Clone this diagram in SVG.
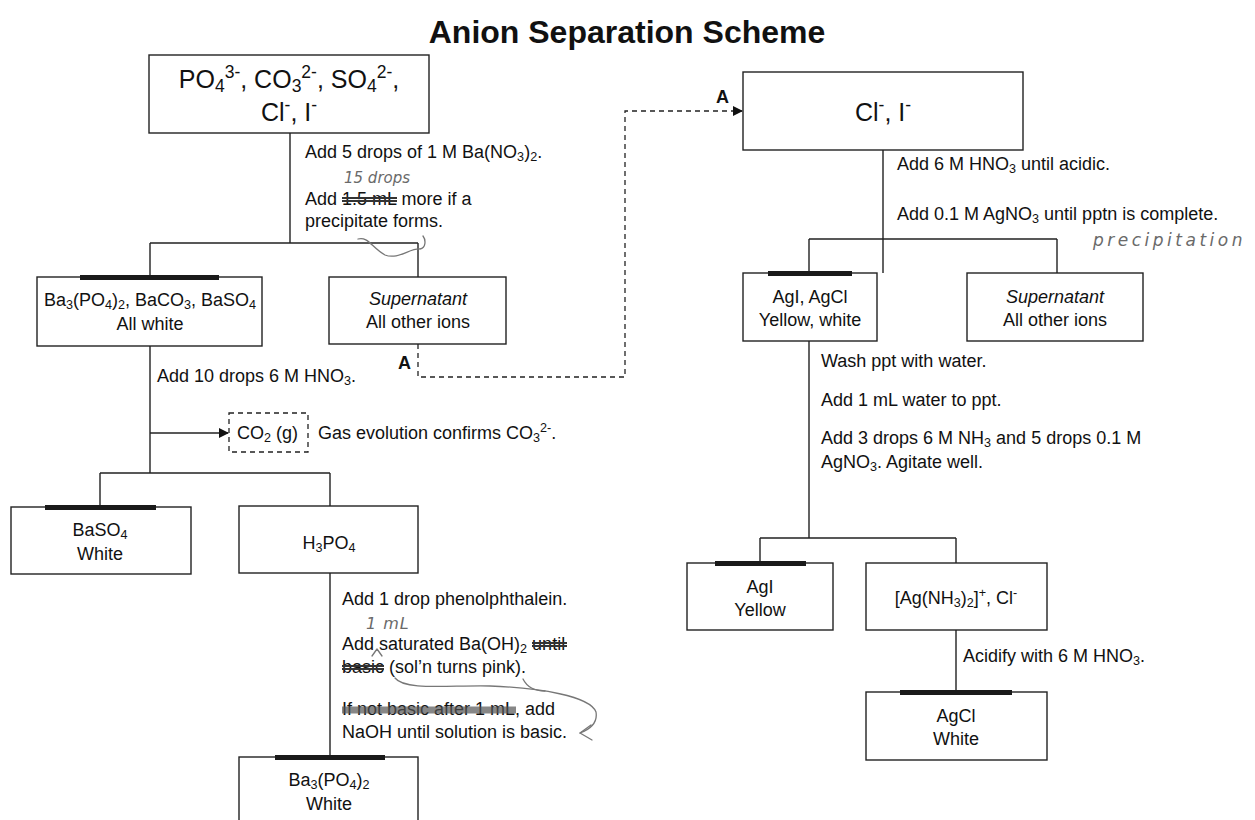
<svg xmlns="http://www.w3.org/2000/svg" width="1255" height="820" viewBox="0 0 1255 820">
<defs>
<style>
text{font-family:"Liberation Sans",Arial,sans-serif;fill:#111;}
.t{font-size:18px;}
.big{font-size:25px;}
.title{font-size:32px;font-weight:bold;}
.lbl{font-size:18px;font-weight:bold;}
.c{text-anchor:middle;}
.i{font-style:italic;}
.hw{font-family:"DejaVu Sans",sans-serif;font-style:italic;font-weight:200;font-size:16px;fill:#6a6a6a;}
.sub{baseline-shift:-3px;font-size:70%;}
.sup{baseline-shift:super;font-size:70%;}
.big .sub{baseline-shift:-4px;}
.box{fill:none;stroke:#222;stroke-width:1.4;}
.bar{fill:#1a1a1a;}
.ln{fill:none;stroke:#222;stroke-width:1.4;}
.dash{fill:none;stroke:#222;stroke-width:1.3;stroke-dasharray:5,4;}
.hand{fill:none;stroke:#777;stroke-width:1.3;stroke-linecap:round;stroke-linejoin:round;}
.strike{stroke:#333;stroke-width:2;}
.hl{stroke:#555;stroke-width:7;opacity:0.7;}
</style>
<marker id="arr" viewBox="0 0 10 10" refX="9" refY="5" markerWidth="10" markerHeight="10" markerUnits="userSpaceOnUse" orient="auto">
<path d="M0,0 L10,5 L0,10 z" fill="#111"/>
</marker>
</defs>
<rect width="1255" height="820" fill="#fff"/>

<text class="title c" x="627" y="43">Anion Separation Scheme</text>

<g id="connectors">
<path class="ln" d="M290,133 V243 M150,243 H418 M150,243 V277 M418,243 V277"/>
<path class="ln" d="M150,346 V473 M100,473 H330 M100,473 V507 M330,473 V506 M330,573 V757"/>
<path class="ln" d="M150,433 H228" marker-end="url(#arr)"/>
<path class="dash" d="M418,344 V377 H625 V111 H742" marker-end="url(#arr)"/>
<path class="ln" d="M883,150 V273 M809,239 H1057 M809,239 V273 M1057,239 V273"/>
<path class="ln" d="M809,341 V538 M760,538 H956 M760,538 V563 M956,538 V563 M956,630 V692"/>
</g>

<g id="n_start">
<rect class="box" x="149" y="55" width="280" height="78"/>
<text class="big c" x="289" y="88">PO<tspan class="sub">4</tspan><tspan class="sup">3-</tspan>, CO<tspan class="sub">3</tspan><tspan class="sup">2-</tspan>, SO<tspan class="sub">4</tspan><tspan class="sup">2-</tspan>,</text>
<text class="big c" x="289" y="121">Cl<tspan class="sup">-</tspan>, I<tspan class="sup">-</tspan></text>
</g>

<g id="step1">
<text class="t" x="305" y="158">Add 5 drops of 1 M Ba(NO<tspan class="sub">3</tspan>)<tspan class="sub">2</tspan>.</text>
<text class="hw" x="344" y="183" style="font-size:15px">15 drops</text>
<text class="t" x="305" y="205">Add 1.5 mL more if a</text>
<line class="strike" x1="342" y1="198" x2="397" y2="198"/>
<line class="strike" x1="342" y1="201" x2="397" y2="201"/>
<text class="t" x="305" y="227">precipitate forms.</text>
<path class="hand" d="M358,239 C368,236 372,248 385,255 C398,260 410,248 420,249 C426,248 426,240 423,236"/>
</g>

<g id="n_ppt1">
<rect class="box" x="37" y="277" width="225" height="69"/>
<rect class="bar" x="80" y="275" width="139" height="5"/>
<text class="t c" x="150" y="306">Ba<tspan class="sub">3</tspan>(PO<tspan class="sub">4</tspan>)<tspan class="sub">2</tspan>, BaCO<tspan class="sub">3</tspan>, BaSO<tspan class="sub">4</tspan></text>
<text class="t c" x="150" y="330">All white</text>
</g>

<g id="n_super1">
<rect class="box" x="329" y="277" width="177" height="67"/>
<text class="t c i" x="418" y="305">Supernatant</text>
<text class="t c" x="418" y="328">All other ions</text>
<text class="lbl" x="398" y="369">A</text>
</g>

<g id="step2">
<text class="t" x="157" y="382">Add 10 drops 6 M HNO<tspan class="sub">3</tspan>.</text>
</g>

<g id="n_co2">
<rect class="dash" x="229" y="413" width="79" height="39"/>
<text class="t" x="237" y="439">CO<tspan class="sub">2</tspan> (g)</text>
<text class="t" x="318" y="439">Gas evolution confirms CO<tspan class="sub">3</tspan><tspan class="sup">2-</tspan>.</text>
</g>

<g id="n_baso4">
<rect class="box" x="11" y="507" width="180" height="67"/>
<rect class="bar" x="45" y="505" width="111" height="5"/>
<text class="t c" x="100" y="536">BaSO<tspan class="sub">4</tspan></text>
<text class="t c" x="100" y="560">White</text>
</g>

<g id="n_h3po4">
<rect class="box" x="239" y="506" width="179" height="67"/>
<text class="t c" x="329" y="549">H<tspan class="sub">3</tspan>PO<tspan class="sub">4</tspan></text>
</g>

<g id="step3">
<text class="t" x="342" y="605">Add 1 drop phenolphthalein.</text>
<text class="hw" x="366" y="629" style="letter-spacing:1px">1 mL</text>
<text class="t" x="342" y="650">Add saturated Ba(OH)<tspan class="sub">2</tspan> until</text>
<line class="strike" x1="532" y1="643" x2="567" y2="643"/>
<line class="strike" x1="532" y1="646" x2="567" y2="646"/>
<path class="hand" d="M372,656 L377,649 L382,656"/>
<text class="t" x="342" y="673">basic (sol’n turns pink).</text>
<line class="strike" x1="342" y1="666" x2="384" y2="666"/>
<line class="strike" x1="342" y1="669" x2="384" y2="669"/>
<text class="t" x="342" y="715">If not basic after 1 mL, add</text>
<line class="hl" x1="342" y1="710" x2="516" y2="710"/>
<text class="t" x="342" y="738">NaOH until solution is basic.</text>
<path class="hand" d="M395,678 C405,691 450,685 490,686 C540,688 590,696 596,712 C598,724 588,730 580,733"/>
<path class="hand" d="M523,679 C527,687 535,691 545,691"/>
<path class="hand" d="M591,725 L580,733 L592,740"/>
</g>

<g id="n_bapo4">
<rect class="box" x="239" y="757" width="179" height="80"/>
<rect class="bar" x="275" y="755" width="110" height="5"/>
<text class="t c" x="329" y="786">Ba<tspan class="sub">3</tspan>(PO<tspan class="sub">4</tspan>)<tspan class="sub">2</tspan></text>
<text class="t c" x="329" y="810">White</text>
</g>

<g id="n_cli">
<text class="lbl" x="716" y="103">A</text>
<rect class="box" x="743" y="72" width="280" height="78"/>
<text class="big c" x="883" y="121">Cl<tspan class="sup">-</tspan>, I<tspan class="sup">-</tspan></text>
</g>

<g id="step4">
<text class="t" x="897" y="170">Add 6 M HNO<tspan class="sub">3</tspan> until acidic.</text>
<text class="t" x="897" y="220">Add 0.1 M AgNO<tspan class="sub">3</tspan> until pptn is complete.</text>
<text class="hw" x="1093" y="246" style="font-size:17px;letter-spacing:3.5px">precipitation</text>
</g>

<g id="n_agiagcl">
<rect class="box" x="743" y="273" width="134" height="68"/>
<rect class="bar" x="768" y="271" width="84" height="5"/>
<text class="t c" x="810" y="303">AgI, AgCl</text>
<text class="t c" x="810" y="326">Yellow, white</text>
</g>

<g id="n_super2">
<rect class="box" x="967" y="273" width="176" height="68"/>
<text class="t c i" x="1055" y="303">Supernatant</text>
<text class="t c" x="1055" y="326">All other ions</text>
</g>

<g id="step5">
<text class="t" x="821" y="367">Wash ppt with water.</text>
<text class="t" x="821" y="406">Add 1 mL water to ppt.</text>
<text class="t" x="821" y="444">Add 3 drops 6 M NH<tspan class="sub">3</tspan> and 5 drops 0.1 M</text>
<text class="t" x="821" y="468">AgNO<tspan class="sub">3</tspan>. Agitate well.</text>
</g>

<g id="n_agi">
<rect class="box" x="687" y="563" width="146" height="67"/>
<rect class="bar" x="715" y="561" width="91" height="5"/>
<text class="t c" x="760" y="593">AgI</text>
<text class="t c" x="760" y="616">Yellow</text>
</g>

<g id="n_agnh3">
<rect class="box" x="866" y="563" width="181" height="67"/>
<text class="t c" x="956" y="604">[Ag(NH<tspan class="sub">3</tspan>)<tspan class="sub">2</tspan>]<tspan class="sup">+</tspan>, Cl<tspan class="sup">-</tspan></text>
</g>

<g id="step6">
<text class="t" x="963" y="662">Acidify with 6 M HNO<tspan class="sub">3</tspan>.</text>
</g>

<g id="n_agcl">
<rect class="box" x="866" y="692" width="181" height="68"/>
<rect class="bar" x="900" y="690" width="112" height="5"/>
<text class="t c" x="956" y="722">AgCl</text>
<text class="t c" x="956" y="745">White</text>
</g>
</svg>
